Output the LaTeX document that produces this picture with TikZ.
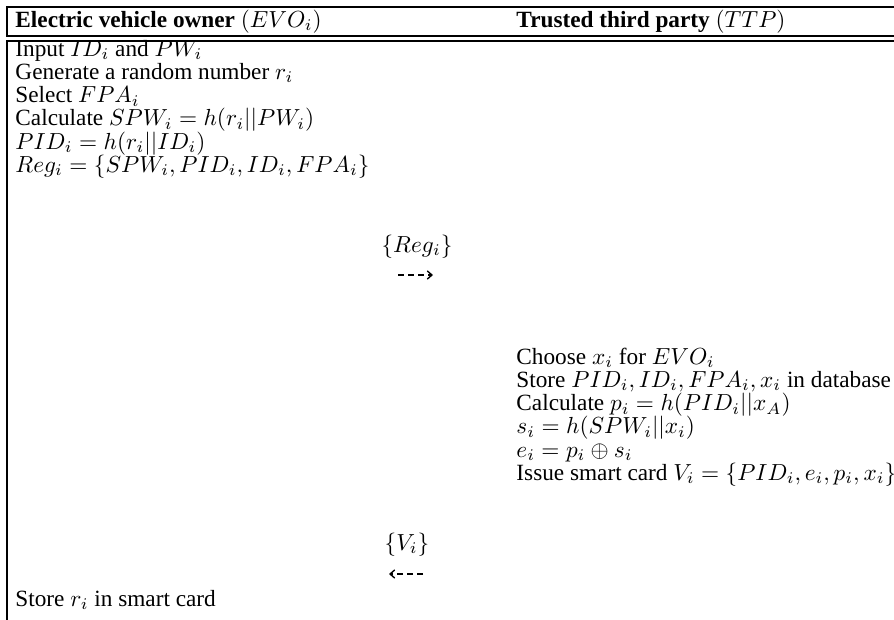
\documentclass[tikz,border=0pt]{standalone}
\usepackage{fontspec}
\setmainfont{Liberation Serif}
\usetikzlibrary{arrows.meta}
\tikzset{%
    sec/.style={line width = 0.5pt},
    txt/.style={anchor=base west, inner sep=0pt},
    msg/.style={anchor=base, inner sep=0pt},
    dar/.style={line width=0.6pt, dash pattern=on 2.5pt off 1.8pt, -{Straight Barb[length=2pt,width=3.5pt]}},
}

\begin{document}
\begin{tikzpicture}[x=0.43pt,y=-0.43pt]
    \useasboundingbox (0,0) rectangle (894,620);
    \draw [sec] (894,7) -- (7,7) -- (7,36) -- (894,36);
    \draw [sec] (894,41) -- (7,41) -- (7,620);
    \node[txt] (evo) at (15,27) {\textbf{Electric vehicle owner} $(EVO_i)$};
    \node[txt] (ttp) at (516,27) {\textbf{Trusted third party} $(TTP)$};
    \node[txt] (inp) at (15,56) {Input $ID_i$ and $PW_i$};
    \node[txt] (gen) at (15,79.3) {Generate a random number $r_i$};
    \node[txt] (sel) at (15,102.6) {Select $FPA_i$};
    \node[txt] (spw) at (15,125.9) {Calculate $SPW_i=h(r_i||PW_i)$};
    \node[txt] (pid) at (15,149.2) {$PID_i=h(r_i||ID_i)$};
    \node[txt] (reg) at (15,172.5) {$Reg_i=\{SPW_i,PID_i,ID_i,FPA_i\}$};
    \node[msg] (mreg) at (417,252) {$\{Reg_i\}$};
    \coordinate (r1) at (398,275);
    \coordinate (r2) at (433,275);
    \draw [dar] (r1) -- (r2);
    \node[txt] (cho) at (516,364) {Choose $x_i$ for $EVO_i$};
    \node[txt] (sto) at (516,387.3) {Store $PID_i,ID_i,FPA_i,x_i$ in database};
    \node[txt] (cpi) at (516,410.6) {Calculate $p_i=h(PID_i||x_A)$};
    \node[txt] (csi) at (516,433.9) {$s_i=h(SPW_i||x_i)$};
    \node[txt] (cei) at (516,457.2) {$e_i=p_i\oplus s_i$};
    \node[txt] (iss) at (516,480.5) {Issue smart card $V_i=\{PID_i,e_i,p_i,x_i\}$};
    \node[msg] (mv) at (407,550) {$\{V_i\}$};
    \coordinate (v1) at (423,574);
    \coordinate (v2) at (389,574);
    \draw [dar] (v1) -- (v2);
    \node[txt] (sri) at (15,606) {Store $r_i$ in smart card};
\end{tikzpicture}
\end{document}
